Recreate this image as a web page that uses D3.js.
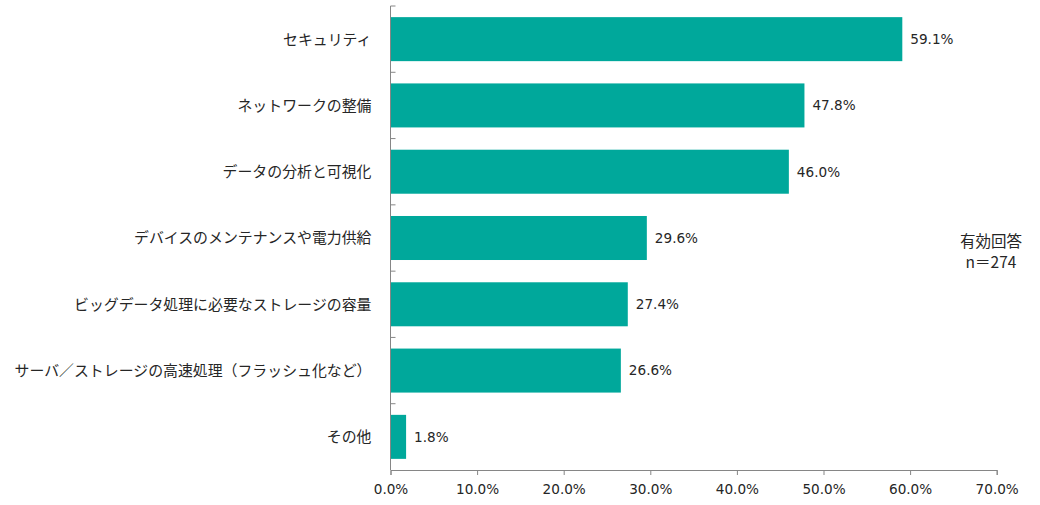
<!DOCTYPE html>
<html lang="ja">
<head>
<meta charset="utf-8">
<style>
body {
  margin: 0;
  background: #fff;
}
text {
  fill: #262626;
}
</style>
</head>
<body>
<svg id="chart" width="1040" height="505"></svg>
<script src="https://d3js.org/d3.v7.min.js"></script>
<script>
  var categories = [
    "セキュリティ",
    "ネットワークの整備",
    "データの分析と可視化",
    "デバイスのメンテナンスや電力供給",
    "ビッグデータ処理に必要なストレージの容量",
    "サーバ／ストレージの高速処理（フラッシュ化など）",
    "その他"
  ];
  var values = [59.1, 47.8, 46.0, 29.6, 27.4, 26.6, 1.8];
  var xTicks = [0, 10, 20, 30, 40, 50, 60, 70];
  var note = ["有効回答", "n＝274"];

  var svg = d3.select("#chart");
  var plotLeft = 390.5, plotRight = 996.7, plotTop = 6, plotBottom = 470;

  var x = d3.scaleLinear().domain([0, 70]).range([plotLeft, plotRight]);
  var y = d3.scaleBand().domain(categories).range([plotTop, plotBottom])
    .paddingInner(0.336).paddingOuter(0.168);

  // bars
  svg.selectAll("rect.bar")
    .data(values)
    .enter().append("rect")
      .attr("class", "bar")
      .attr("x", x(0))
      .attr("y", function(d, i) { return y(categories[i]); })
      .attr("width", function(d) { return x(d) - x(0); })
      .attr("height", y.bandwidth())
      .attr("fill", "#00a89b");

  // value labels
  svg.selectAll("text.val")
    .data(values)
    .enter().append("text")
      .attr("class", "val")
      .attr("x", function(d) { return x(d) + 8; })
      .attr("y", function(d, i) { return y(categories[i]) + y.bandwidth() / 2; })
      .attr("dy", "0.36em")
      .style("font", "13.6px 'DejaVu Sans', sans-serif")
      .text(function(d) { return d.toFixed(1) + "%"; });

  // x axis
  var xAxis = svg.append("g")
    .attr("transform", "translate(0," + plotBottom + ")")
    .call(d3.axisBottom(x).tickValues(xTicks).tickSize(5).tickPadding(9)
      .tickFormat(function(d) { return d.toFixed(1) + "%"; }));
  xAxis.selectAll("text").style("font", "13.6px 'DejaVu Sans', sans-serif").attr("fill", "#262626");
  xAxis.select(".domain").attr("stroke", "#868686");
  xAxis.selectAll(".tick line").attr("stroke", "#868686");

  // y axis with inward ticks between categories
  var yAxis = svg.append("g").attr("transform", "translate(" + plotLeft + ",0)");
  yAxis.append("line")
    .attr("x1", 0).attr("x2", 0)
    .attr("y1", plotTop).attr("y2", plotBottom)
    .attr("stroke", "#868686");
  var step = y.step();
  yAxis.selectAll("line.tick")
    .data(d3.range(categories.length))
    .enter().append("line")
      .attr("class", "tick")
      .attr("x1", 0).attr("x2", 5)
      .attr("y1", function(i) { return plotTop + i * step; })
      .attr("y2", function(i) { return plotTop + i * step; })
      .attr("stroke", "#868686");
  yAxis.selectAll("text.cat")
    .data(categories)
    .enter().append("text")
      .attr("class", "cat")
      .attr("x", -19)
      .attr("y", function(d) { return y(d) + y.bandwidth() / 2; })
      .attr("dy", "0.36em")
      .attr("text-anchor", "end")
      .style("font", "14.9px 'Noto Sans CJK JP', sans-serif")
      .text(function(d) { return d; });

  // annotation
  svg.selectAll("text.note")
    .data(note)
    .enter().append("text")
      .attr("class", "note")
      .attr("x", 991)
      .attr("y", function(d, i) { return 241 + i * 21; })
      .attr("dy", "0.36em")
      .attr("text-anchor", "middle")
      .style("font", "15.5px 'Noto Sans CJK JP', sans-serif")
      .text(function(d) { return d; });
</script>
</body>
</html>
